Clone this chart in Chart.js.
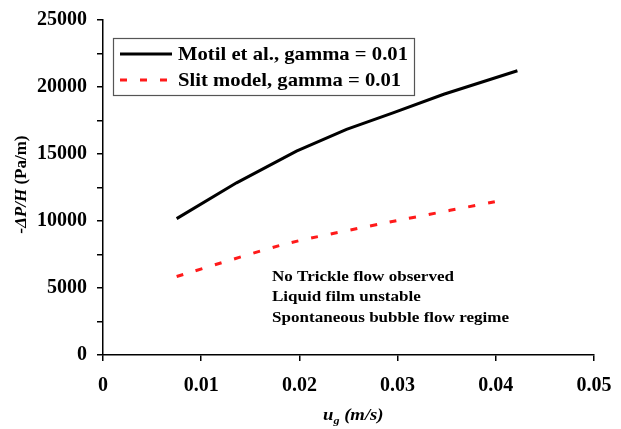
<!DOCTYPE html>
<html>
<head>
<meta charset="utf-8">
<script src="https://cdn.jsdelivr.net/npm/chart.js@4.4.1/dist/chart.umd.min.js"></script>
<style>
  html, body { margin: 0; padding: 0; background: #ffffff; }
  #wrap { position: relative; width: 621px; height: 429px; }
</style>
</head>
<body>
<div id="wrap"><canvas id="c" width="621" height="429"></canvas></div>
<script>
// ---- Data ----
const motilX = [0.0075, 0.0136, 0.0197, 0.0248, 0.0296, 0.0347, 0.0422];
const motilY = [10180, 12850, 15220, 16840, 18090, 19460, 21210];
const slitX  = [0.0075, 0.0187, 0.0296, 0.0411];
const slitY  = [5860, 8310, 9980, 11600];
const seriesLabels = ['Motil et al., gamma = 0.01', 'Slit model, gamma = 0.01'];
const xTickValues = [0, 0.01, 0.02, 0.03, 0.04, 0.05];
const yLabelValues = [0, 5000, 10000, 15000, 20000, 25000];
const noteLines = ['No Trickle flow observed', 'Liquid film unstable', 'Spontaneous bubble flow regime'];
const yTitleMain = '-\u0394P/H';
const yTitleUnit = ' (Pa/m)';
const xTitleMain = 'u';
const xTitleSub = 'g';
const xTitleUnit = ' (m/s)';

const SERIF = '"Liberation Serif", "Times New Roman", serif';

const toPts = (xs, ys) => xs.map((x, i) => ({ x: x, y: ys[i] }));

// draw text stretched horizontally by factor k
function stretchText(ctx, text, x, y, k) {
  ctx.save();
  ctx.translate(x, y);
  ctx.scale(k, 1);
  ctx.fillText(text, 0, 0);
  ctx.restore();
}

const overlay = {
  id: 'overlay',
  afterDraw(chart) {
    const ctx = chart.ctx;
    const ca = chart.chartArea;
    ctx.save();
    // Legend box
    const lx = 113, ly = 38, lw = 301, lh = 57;
    ctx.strokeStyle = '#555';
    ctx.lineWidth = 1.2;
    ctx.strokeRect(lx + 0.5, ly + 0.5, lw, lh);
    ctx.font = 'bold 19px ' + SERIF;
    ctx.textBaseline = 'middle';
    ctx.fillStyle = '#000';
    const kl = 230 / ctx.measureText(seriesLabels[0]).width;
    chart.data.datasets.forEach((ds, i) => {
      const yy = ly + 16 + i * 26;
      ctx.beginPath();
      ctx.strokeStyle = ds.borderColor;
      ctx.lineWidth = ds.borderWidth;
      ctx.setLineDash(ds.borderDash || []);
      ctx.moveTo(120, yy);
      ctx.lineTo(172, yy);
      ctx.stroke();
      ctx.setLineDash([]);
      ctx.fillStyle = '#000';
      ctx.textAlign = 'left';
      stretchText(ctx, ds.label, 178, yy + 1, kl);
    });
    // Annotation text
    ctx.font = 'bold 15px ' + SERIF;
    ctx.textAlign = 'left';
    ctx.textBaseline = 'middle';
    const k = 182 / ctx.measureText(noteLines[0]).width;
    noteLines.forEach((t, i) => stretchText(ctx, t, 272, 277 + i * 20.5, k));
    // Y title
    ctx.save();
    ctx.translate(22, (ca.top + ca.bottom) / 2 - 3);
    ctx.rotate(-Math.PI / 2);
    ctx.textBaseline = 'middle';
    const fMain = 'bold italic 17px ' + SERIF;
    const fUnit = 'bold 17px ' + SERIF;
    ctx.font = fMain; const w1 = ctx.measureText(yTitleMain).width;
    ctx.font = fUnit; const w2 = ctx.measureText(yTitleUnit).width;
    let sx = -(w1 + w2) / 2;
    ctx.textAlign = 'left';
    ctx.font = fMain; ctx.fillText(yTitleMain, sx, 0);
    ctx.font = fUnit; ctx.fillText(yTitleUnit, sx + w1, 0);
    ctx.restore();
    // X title
    const xm = 'bold italic 17px ' + SERIF;
    const xs = 'bold italic 11px ' + SERIF;
    ctx.font = xm; const a = ctx.measureText(xTitleMain).width * 1.1;
    ctx.font = xs; const b = ctx.measureText(xTitleSub).width * 1.1;
    let px = 323;
    const by = 420;
    ctx.textBaseline = 'alphabetic';
    ctx.font = xm; stretchText(ctx, xTitleMain, px, by, 1.1); px += a;
    ctx.font = xs; stretchText(ctx, xTitleSub, px, by + 4, 1.1); px += b;
    ctx.font = xm; stretchText(ctx, xTitleUnit, px, by, 1.1);
    ctx.restore();
  }
};

new Chart(document.getElementById('c'), {
  type: 'line',
  data: {
    datasets: [
      {
        label: seriesLabels[0],
        data: toPts(motilX, motilY),
        borderColor: '#000000',
        borderWidth: 3,
        pointRadius: 0,
        tension: 0,
        fill: false
      },
      {
        label: seriesLabels[1],
        data: toPts(slitX, slitY),
        borderColor: '#ff1a1a',
        borderWidth: 3,
        borderDash: [7, 13],
        pointRadius: 0,
        tension: 0.2,
        fill: false
      }
    ]
  },
  options: {
    responsive: false,
    animation: false,
    devicePixelRatio: 1,
    layout: { padding: { left: 0, right: 27, top: 20, bottom: 0 } },
    plugins: {
      legend: { display: false },
      tooltip: { enabled: false },
      title: { display: false }
    },
    scales: {
      x: {
        type: 'linear',
        min: 0,
        max: 0.05,
        afterBuildTicks: (s) => { s.ticks = xTickValues.map(v => ({ value: v })); },
        afterFit: (s) => { s.height = 74; s.paddingRight = 0; s.paddingLeft = 0; },
        border: { display: true, color: '#000', width: 1.5 },
        grid: { drawOnChartArea: false, drawTicks: true, tickLength: 6, color: '#000', lineWidth: 1.5 },
        ticks: {
          padding: 13,
          color: '#000',
          maxRotation: 0,
          font: { family: SERIF, size: 20, weight: 'bold' },
          callback: (v) => Number(Number(v).toFixed(2)).toString()
        }
      },
      y: {
        type: 'linear',
        min: 0,
        max: 25000,
        ticks: {
          stepSize: 2500,
          padding: 10,
          color: '#000',
          font: { family: SERIF, size: 20, weight: 'bold' },
          callback: (v) => yLabelValues.includes(v) ? String(v) : ''
        },
        afterFit: (s) => { s.width = 103; s.paddingTop = 0; s.paddingBottom = 0; },
        border: { display: true, color: '#000', width: 1.5 },
        grid: { drawOnChartArea: false, drawTicks: true, tickLength: 6, color: '#000', lineWidth: 1.5 }
      }
    }
  },
  plugins: [overlay]
});
</script>
</body>
</html>
